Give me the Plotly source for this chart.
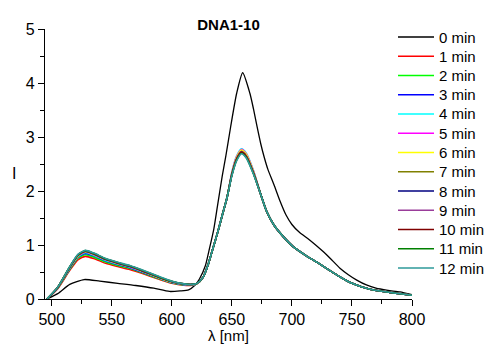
import plotly.graph_objects as go

# ---------------- data ----------------
series_names = ["0 min", "1 min", "2 min", "3 min", "4 min", "5 min", "6 min",
                "7 min", "8 min", "9 min", "10 min", "11 min", "12 min"]
series_colors = ["#000000", "#FF0000", "#00FF00", "#0000FF", "#00FFFF", "#FF00FF",
                 "#FFFF00", "#808000", "#000080", "#9A3C9A", "#800000", "#008000", "#2E9A9A"]

# wavelength grid of the 0 min spectrum
wl_0 = [496, 505, 515, 527, 540, 555, 570, 585, 598, 607, 614, 619, 623, 628, 631, 635,
        638, 642, 645, 649, 654, 659, 665, 668, 671, 674, 677, 680, 685, 690, 695, 700,
        706, 715, 726, 732, 740, 747, 754, 762, 770, 780, 790, 800]
i_0 = [0.00, 0.10, 0.27, 0.36, 0.33, 0.29, 0.25, 0.20, 0.14, 0.15, 0.17, 0.25, 0.37, 0.62,
       0.90, 1.30, 1.72, 2.28, 2.65, 3.19, 3.81, 4.19, 3.81, 3.52, 3.19, 2.88, 2.62, 2.40,
       2.12, 1.82, 1.56, 1.38, 1.24, 1.09, 0.88, 0.75, 0.57, 0.45, 0.35, 0.26, 0.20, 0.16,
       0.13, 0.08]

# wavelength grid of the 1..12 min spectra
wl = [496, 505, 515, 522, 528, 535, 545, 555, 565, 575, 590, 600, 610, 617, 621,
      626, 630, 634, 638, 642, 646, 650, 654, 658, 662, 668, 674, 679, 685, 693,
      701, 712, 723, 732, 740, 749, 765, 782, 800]

i_1 = [0, .19, .53, .73, .79, .75, .66, .60, .545, .475, .36, .29, .255, .255, .28,
       .40, .62, .92, 1.22, 1.55, 1.88, 2.32, 2.61, 2.74, 2.66, 2.35, 1.94, 1.62, 1.37, 1.15,
       .97, .80, .65, .52, .41, .30, .18, .12, .07]
i_2 = [0, .20, .55, .76, .82, .775, .685, .62, .565, .49, .37, .30, .26, .26, .28,
       .40, .62, .92, 1.22, 1.55, 1.88, 2.32, 2.62, 2.75, 2.67, 2.35, 1.94, 1.62, 1.37, 1.15,
       .97, .80, .65, .52, .41, .30, .18, .12, .07]
i_3 = [0, .21, .56, .78, .845, .80, .705, .64, .58, .50, .38, .305, .265, .26, .285,
       .40, .62, .92, 1.22, 1.55, 1.88, 2.32, 2.61, 2.74, 2.66, 2.35, 1.94, 1.62, 1.37, 1.15,
       .97, .80, .65, .52, .41, .30, .18, .12, .07]
i_4 = [0, .21, .57, .79, .86, .81, .715, .65, .59, .51, .385, .31, .27, .265, .285,
       .40, .62, .92, 1.22, 1.55, 1.88, 2.35, 2.65, 2.78, 2.70, 2.38, 1.94, 1.62, 1.37, 1.15,
       .97, .80, .65, .52, .41, .30, .18, .12, .07]
i_5 = [0, .21, .58, .80, .87, .82, .725, .655, .595, .515, .39, .315, .27, .265, .285,
       .40, .62, .92, 1.22, 1.55, 1.88, 2.34, 2.64, 2.77, 2.69, 2.37, 1.94, 1.62, 1.37, 1.15,
       .97, .80, .65, .52, .41, .30, .18, .12, .07]
i_6 = [0, .21, .58, .80, .875, .825, .73, .66, .60, .52, .39, .315, .275, .265, .285,
       .40, .62, .92, 1.22, 1.55, 1.88, 2.33, 2.63, 2.76, 2.68, 2.36, 1.94, 1.62, 1.37, 1.15,
       .97, .80, .65, .52, .41, .30, .18, .12, .07]
i_7 = [0, .21, .58, .81, .88, .83, .73, .66, .60, .52, .395, .32, .275, .27, .29,
       .40, .62, .92, 1.22, 1.55, 1.88, 2.31, 2.60, 2.73, 2.65, 2.34, 1.94, 1.62, 1.37, 1.15,
       .97, .80, .65, .52, .41, .30, .18, .12, .07]
i_8 = [0, .21, .59, .81, .885, .835, .735, .665, .605, .525, .40, .32, .275, .27, .29,
       .40, .62, .92, 1.22, 1.55, 1.88, 2.30, 2.59, 2.72, 2.64, 2.33, 1.94, 1.62, 1.37, 1.15,
       .97, .80, .65, .52, .41, .30, .18, .12, .07]
i_9 = [0, .22, .59, .82, .89, .84, .74, .67, .61, .53, .40, .325, .28, .27, .29,
       .40, .62, .92, 1.22, 1.55, 1.88, 2.31, 2.60, 2.73, 2.65, 2.34, 1.94, 1.62, 1.37, 1.15,
       .97, .80, .65, .52, .41, .30, .18, .12, .07]
i_10 = [0, .22, .59, .82, .89, .84, .74, .67, .61, .53, .40, .325, .28, .27, .29,
        .40, .62, .92, 1.22, 1.55, 1.88, 2.30, 2.59, 2.72, 2.64, 2.33, 1.94, 1.62, 1.37, 1.15,
        .97, .80, .65, .52, .41, .30, .18, .12, .07]
i_11 = [0, .22, .60, .82, .895, .845, .745, .675, .615, .535, .405, .33, .28, .27, .29,
        .40, .62, .92, 1.22, 1.55, 1.88, 2.29, 2.57, 2.70, 2.62, 2.32, 1.94, 1.62, 1.37, 1.15,
        .97, .80, .65, .52, .41, .30, .18, .12, .07]
i_12 = [0, .22, .60, .83, .90, .85, .75, .68, .62, .54, .41, .33, .28, .27, .29,
        .40, .62, .92, 1.22, 1.55, 1.88, 2.28, 2.56, 2.69, 2.61, 2.31, 1.94, 1.62, 1.37, 1.15,
        .97, .80, .65, .52, .41, .30, .18, .12, .07]

x_tick_vals = [500, 550, 600, 650, 700, 750, 800]
y_tick_vals = [0, 1, 2, 3, 4, 5]

# ---------------- figure ----------------
FONT = "Liberation Sans, Arial, sans-serif"
W, H = 488, 350
ML, MR, MT, MB = 45, 76, 29, 51
PW, PH = W - ML - MR, H - MT - MB

def px_x(px):
    return (px - ML) / PW

def px_y(py):
    return (H - MB - py) / PH

fig = go.Figure()

all_x = [wl_0] + [wl] * 12
all_y = [i_0, i_1, i_2, i_3, i_4, i_5, i_6, i_7, i_8, i_9, i_10, i_11, i_12]
for k in range(13):
    fig.add_trace(go.Scatter(
        x=all_x[k], y=all_y[k], mode="lines", name=series_names[k], showlegend=False,
        line=dict(color=series_colors[k], width=1.3 if k == 0 else 1.6,
                  shape="spline", smoothing=0.6),
    ))

# manual legend (line sample + label), matching the reference layout
for k in range(13):
    yc = 37 + 19.25 * k
    fig.add_shape(type="line", xref="paper", yref="paper",
                  x0=px_x(398), x1=px_x(434), y0=px_y(yc), y1=px_y(yc),
                  line=dict(color=series_colors[k], width=1.3 if k == 0 else 1.6))
    fig.add_annotation(text=series_names[k], xref="paper", yref="paper",
                       x=px_x(437), y=px_y(yc), xanchor="left", yanchor="middle",
                       showarrow=False, font=dict(family=FONT, size=15, color="black"))

fig.update_layout(
    width=W, height=H,
    margin=dict(l=ML, r=MR, t=MT, b=MB),
    plot_bgcolor="white", paper_bgcolor="white",
    font=dict(family=FONT, size=15, color="black"),
    showlegend=False,
    title=dict(text="<b>DNA1-10</b>", x=0.5, xref="paper", xanchor="center",
               y=1 - 25 / H, yanchor="middle",
               font=dict(family=FONT, size=15, color="black")),
)

fig.update_xaxes(
    range=[494.4, 800], showgrid=False, zeroline=False,
    showline=True, linecolor="black", linewidth=1.2,
    ticks="outside", ticklen=6, tickwidth=1, tickcolor="black",
    tickvals=x_tick_vals, tickfont=dict(family=FONT, size=16),
    minor=dict(dtick=25, tick0=500, ticks="outside", ticklen=4, tickcolor="black", tickwidth=1),
)
fig.update_yaxes(
    range=[0, 5], showgrid=False, zeroline=False,
    showline=True, linecolor="black", linewidth=1.2,
    ticks="outside", ticklen=6, tickwidth=1, tickcolor="black",
    tickvals=y_tick_vals, tickfont=dict(family=FONT, size=16),
    minor=dict(dtick=0.5, tick0=0, ticks="outside", ticklen=4, tickcolor="black", tickwidth=1),
)

fig.add_annotation(text="\u03bb [nm]", xref="paper", yref="paper", x=0.5, y=px_y(335),
                   xanchor="center", yanchor="middle", showarrow=False,
                   font=dict(family=FONT, size=15, color="black"))
fig.add_annotation(text="I", xref="paper", yref="paper", x=px_x(14), y=px_y(174),
                   xanchor="center", yanchor="middle", showarrow=False,
                   font=dict(family=FONT, size=16, color="black"))

fig.write_html("out.html")
